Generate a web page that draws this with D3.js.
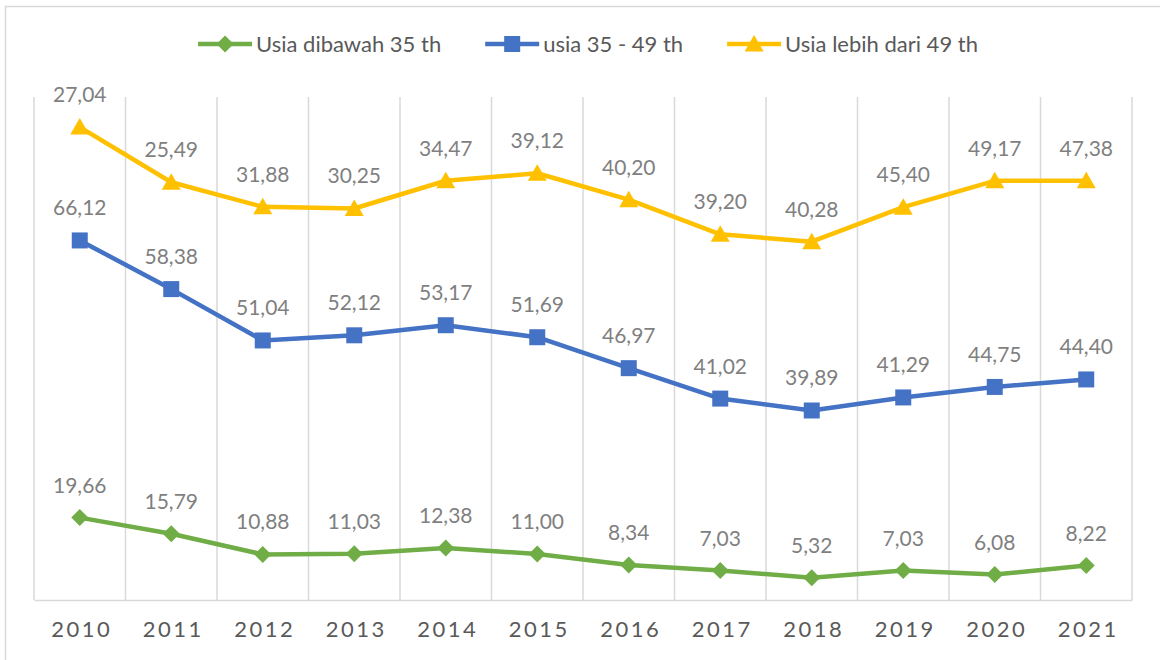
<!DOCTYPE html>
<html>
<head>
<meta charset="utf-8">
<script src="https://cdn.jsdelivr.net/npm/d3@7"></script>
<style>
  body { margin: 0; background: #fff; }
  text { font-family: Lato, "Open Sans", sans-serif; }
</style>
</head>
<body>
<div id="container"></div>
<script>
let years = ["2010", "2011", "2012", "2013", "2014", "2015", "2016", "2017", "2018", "2019", "2020", "2021"];
let under35 = [19.66, 15.79, 10.88, 11.03, 12.38, 11.00, 8.34, 7.03, 5.32, 7.03, 6.08, 8.22];
let age35to49 = [66.12, 58.38, 51.04, 52.12, 53.17, 51.69, 46.97, 41.02, 39.89, 41.29, 44.75, 44.40];
let over49 = [27.04, 25.49, 31.88, 30.25, 34.47, 39.12, 40.20, 39.20, 40.28, 45.40, 49.17, 47.38];
let seriesNames = ["Usia dibawah 35 th", "usia 35 - 49 th", "Usia lebih dari 49 th"];
let seriesColors = ["#70AD47", "#4472C4", "#FFC000"];
let seriesShapes = ["diamond", "square", "triangle"];

let w = 1160;
let h = 660;
let plotLeft = 34, plotRight = 1132, plotTop = 97, plotBottom = 600;

let viz = d3.select("#container")
  .append("svg")
  .attr("width", w)
  .attr("height", h);

// chart area border (cut off at right and bottom like the picture)
viz.append("rect")
  .attr("x", 5.5).attr("y", 6.5)
  .attr("width", 1200).attr("height", 700)
  .attr("fill", "none")
  .attr("stroke", "#d9d9d9")
  .attr("stroke-width", 1.5);

// stacked line chart
let rows = years.map(function (y, i) {
  return { year: y, a: under35[i], b: age35to49[i], c: over49[i] };
});
let stacked = d3.stack().keys(["a", "b", "c"])(rows);
let raw = [under35, age35to49, over49];

let xScale = d3.scaleBand().domain(years).range([plotLeft, plotRight]).paddingInner(0).paddingOuter(0);
let yScale = d3.scaleLinear().domain([0, 120]).range([plotBottom, plotTop]);

// vertical gridlines at category boundaries
let bounds = years.map(function (y) { return xScale(y); }).concat([plotRight]);
viz.append("g").selectAll("line")
  .data(bounds)
  .join("line")
  .attr("x1", function (d) { return d; })
  .attr("x2", function (d) { return d; })
  .attr("y1", plotTop)
  .attr("y2", plotBottom)
  .attr("stroke", "#d9d9d9")
  .attr("stroke-width", 1.5);

// x axis
let xAxisGroup = viz.append("g")
  .attr("transform", "translate(0," + plotBottom + ")")
  .call(d3.axisBottom(xScale).tickSize(0).tickPadding(0));
xAxisGroup.select(".domain").attr("stroke", "#d9d9d9").attr("stroke-width", 1.5);
xAxisGroup.selectAll("text")
  .attr("y", 37)
  .attr("dy", 0)
  .attr("dx", 2)
  .attr("fill", "#595959")
  .style("font-family", "Lato, sans-serif")
  .style("font-size", "22px")
  .style("letter-spacing", "2.5px");

function marker(shape) {
  if (shape === "diamond") return "M0,-8.5L8.5,0L0,8.5L-8.5,0Z";
  if (shape === "square") return "M-8,-8H8V8H-8Z";
  return "M0,-9L9.5,7.5H-9.5Z";
}

let cx = function (d) { return xScale(d.data.year) + xScale.bandwidth() / 2; };
let line = d3.line().x(cx).y(function (d) { return yScale(d[1]); });

stacked.forEach(function (s, k) {
  let g = viz.append("g");
  g.append("path")
    .datum(s)
    .attr("d", line)
    .attr("fill", "none")
    .attr("stroke", seriesColors[k])
    .attr("stroke-width", 4.5)
    .attr("stroke-linejoin", "round");
  g.selectAll("path.m")
    .data(s)
    .join("path")
    .attr("class", "m")
    .attr("d", marker(seriesShapes[k]))
    .attr("transform", function (d) { return "translate(" + cx(d) + "," + yScale(d[1]) + ")"; })
    .attr("fill", seriesColors[k]);
  g.selectAll("text")
    .data(s)
    .join("text")
    .attr("x", cx)
    .attr("y", function (d) { return yScale(d[1]) - 25; })
    .attr("text-anchor", "middle")
    .attr("fill", "#7f7f7f")
    .style("font-size", "21px")
    .text(function (d, i) { return raw[k][i].toFixed(2).replace(".", ","); });
});

// legend
let legend = viz.append("g");
let items = legend.selectAll("g")
  .data(seriesNames)
  .join("g");
items.append("line")
  .attr("x1", 0).attr("x2", 54)
  .attr("y1", 0).attr("y2", 0)
  .attr("stroke", function (d, i) { return seriesColors[i]; })
  .attr("stroke-width", 4.5);
items.append("path")
  .attr("d", function (d, i) { return marker(seriesShapes[i]); })
  .attr("transform", "translate(27,0)")
  .attr("fill", function (d, i) { return seriesColors[i]; });
items.append("text")
  .attr("x", 58)
  .attr("y", 7.5)
  .attr("fill", "#595959")
  .style("font-size", "22px")
  .text(function (d) { return d; });

let offset = 0;
let widths = [];
items.each(function () {
  let tw = d3.select(this).select("text").node().getComputedTextLength();
  widths.push(58 + tw);
});
let total = d3.sum(widths) + 44 * (widths.length - 1);
offset = 588 - total / 2;
items.attr("transform", function (d, i) {
  let x = offset;
  offset += widths[i] + 44;
  return "translate(" + x + ",44)";
});
</script>
</body>
</html>
